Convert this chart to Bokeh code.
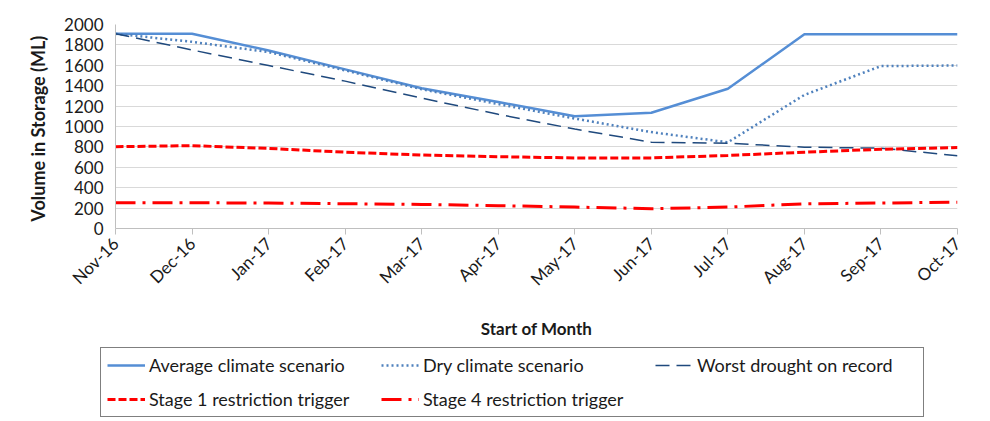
import numpy as np
from bokeh.plotting import figure
from bokeh.models import Range1d, FixedTicker, Legend, LegendItem
from bokeh.embed import file_html
from bokeh.resources import INLINE
from math import pi

months = ["Nov-16", "Dec-16", "Jan-17", "Feb-17", "Mar-17", "Apr-17",
          "May-17", "Jun-17", "Jul-17", "Aug-17", "Sep-17", "Oct-17"]
average = [1910, 1910, 1745, 1560, 1375, 1240, 1100, 1135, 1370, 1905, 1905, 1905]
dry = [1910, 1830, 1730, 1550, 1365, 1220, 1078, 945, 845, 1310, 1592, 1598]
worst = [1910, 1750, 1598, 1445, 1278, 1120, 975, 846, 836, 797, 788, 713]
stage1 = [802, 812, 785, 748, 720, 704, 692, 692, 716, 748, 777, 793]
stage4 = [252, 252, 250, 243, 236, 224, 210, 194, 210, 242, 250, 258]
y_ticks = list(range(0, 2001, 200))
series_names = ["Average climate scenario", "Dry climate scenario",
                "Worst drought on record", "Stage 1 restriction trigger",
                "Stage 4 restriction trigger"]

x = list(range(len(months)))
FONT = "Lato"
TXT = "#1a1a1a"

styles = [
    dict(line_color="#558ED5", line_width=2.5),
    dict(line_color="#4F81BD", line_width=2.5, line_dash="2 3"),
    dict(line_color="#1F497D", line_width=1.5, line_dash="14 7"),
    dict(line_color="#FF0000", line_width=3, line_dash="8 3"),
    dict(line_color="#FF0000", line_width=3, line_dash="20 7 3 7"),
]
series = [average, dry, worst, stage1, stage4]

p = figure(width=990, height=345, output_backend="svg", toolbar_location=None,
           x_range=Range1d(0, len(months) - 1), y_range=Range1d(0, 2000),
           min_border_left=115, min_border_right=33, min_border_top=24,
           min_border_bottom=117)
p.outline_line_color = None

p.xgrid.grid_line_color = None
p.ygrid.grid_line_color = "#d9d9d9"
p.ygrid.grid_line_width = 1
p.ygrid.ticker = FixedTicker(ticks=y_ticks)

p.yaxis.ticker = FixedTicker(ticks=y_ticks)
p.yaxis.axis_line_color = "#bfbfbf"
p.yaxis.major_tick_line_color = None
p.yaxis.minor_tick_line_color = None
p.yaxis.major_label_text_font = FONT
p.yaxis.major_label_text_font_size = "17px"
p.yaxis.major_label_text_color = TXT
p.yaxis.major_label_standoff = 6
p.yaxis.axis_label = "Volume in Storage  (ML)"
p.yaxis.axis_label_text_font = FONT
p.yaxis.axis_label_text_font_size = "18px"
p.yaxis.axis_label_text_font_style = "bold"
p.yaxis.axis_label_text_color = TXT
p.yaxis.axis_label_standoff = 12

p.xaxis.ticker = FixedTicker(ticks=x)
p.xaxis.major_label_overrides = {i: m for i, m in enumerate(months)}
p.xaxis.major_label_orientation = pi / 4
p.xaxis.axis_line_color = "#bfbfbf"
p.xaxis.major_tick_line_color = "#bfbfbf"
p.xaxis.major_tick_out = 6
p.xaxis.major_tick_in = 0
p.xaxis.minor_tick_line_color = None
p.xaxis.major_label_text_font = FONT
p.xaxis.major_label_text_font_size = "17px"
p.xaxis.major_label_text_color = TXT
p.xaxis.major_label_standoff = 6
p.xaxis.axis_label = "Start of Month"
p.xaxis.axis_label_text_font = FONT
p.xaxis.axis_label_text_font_size = "17px"
p.xaxis.axis_label_text_font_style = "bold"
p.xaxis.axis_label_text_color = TXT
p.xaxis.axis_label_standoff = 18

for ys, st in zip(series, styles):
    p.line(x, ys, **st)

# legend panel below the chart (series drawn out of view; only legend shows)
lg = figure(width=990, height=76, output_backend="svg", toolbar_location=None,
            x_range=Range1d(0, len(months) - 1), y_range=Range1d(5000, 6000),
            x_axis_location=None, y_axis_location=None,
            min_border_left=0, min_border_right=0, min_border_top=0,
            min_border_bottom=0)
lg.grid.grid_line_color = None
lg.outline_line_color = None
items = []
for name, ys, st in zip(series_names, series, styles):
    r = lg.line(x, ys, **st)
    items.append(LegendItem(label=name, renderers=[r]))

legend = Legend(items=items, orientation="horizontal", ncols=3, location=(100, 4))
legend.border_line_color = "black"
legend.border_line_width = 1
legend.background_fill_alpha = 1
legend.label_text_font = FONT
legend.label_text_font_size = "18px"
legend.label_text_color = TXT
legend.glyph_width = 38
legend.glyph_height = 22
legend.label_height = 22
legend.label_width = 220
legend.label_standoff = 4
legend.spacing = 12
legend.padding = 6
legend.margin = 0
lg.add_layout(legend, "center")

open("out.html", "w").write(file_html([p, lg], INLINE))
